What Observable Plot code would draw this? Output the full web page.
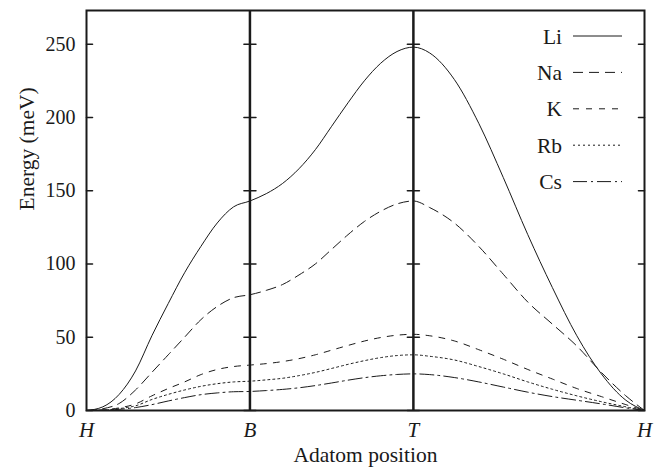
<!DOCTYPE html>
<html><head><meta charset="utf-8">
<script src="https://cdn.jsdelivr.net/npm/d3@7"></script>
<script src="https://cdn.jsdelivr.net/npm/@observablehq/plot@0.6"></script>
<style>
html,body{margin:0;padding:0;background:#fff;}
#chart{width:666px;height:470px;}
</style></head><body><div id="chart"></div>
<script>
// Path coordinate: H=0, B=1, T=2, H=2+sqrt(2)
const positions = [0,0.1,0.2,0.3,0.4,0.5,0.6,0.7,0.8,0.9,1.0, 1.1,1.2,1.3,1.4,1.5,1.6,1.7,1.8,1.9,2.0, 2.1,2.25,2.4,2.55,2.7,2.85,3.0,3.15,3.3,3.414];
const li = [0,2.5,11,27,51,73,94,112,128,139,143, 148,155,165,178,194,210,225,237,245,248, 244,226,196,159,120,84,51,25,7,0];
const na = [0,1.2,4.8,14,26,38,50,62,71,77,79, 82,86,92.5,100,110,120,129,136,141,143, 138.5,128,112,93,74,59,44,26,10,0];
const k  = [0,0.4,1.8,4.5,10,15,19.5,24.5,28,30,31, 32,33.4,35.4,38,41.2,44.4,47.4,49.8,51.4,52, 51,47.5,41.5,35,28,21.5,15,9.5,4,0];
const rb = [0,0.3,1.3,3.2,7.5,11,14,16.5,18.3,19.5,20, 20.9,22,23.8,26,28.7,31.5,34,36.1,37.5,38, 37,34.5,30,25,19.5,14.5,10,6,2.5,0];
const cs = [0,0.2,0.8,2,4,6.5,8.8,10.8,12,12.8,13, 13.6,14.4,15.5,17,18.8,20.7,22.4,23.7,24.6,25, 24.5,22.5,19.5,16,12.5,9.5,7,4.5,1.8,0];

const seriesNames = ["Li","Na","K","Rb","Cs"];
const seriesValues = [li, na, k, rb, cs];
const dashes = [null, "10,6", "6,7", "2,3", "14,4,2,4"];

const xTickPositions = [0, 1, 2, 3.414];
const xTickLabels = ["H","B","T","H"];
const yTicks = [0, 50, 100, 150, 200, 250];
const xDomain = [0, 3.414];
const yDomain = [0, 273];

const rows = [];
seriesNames.forEach((s, si) => positions.forEach((p, i) => rows.push({series: s, x: p, y: seriesValues[si][i]})));

const ink = "#1a1a1a";
const serif = "'Liberation Serif', 'Times New Roman', 'DejaVu Serif', serif";
const inner = xTickPositions.slice(1, 3);
const innerTicks = [];
inner.forEach(xv => yTicks.forEach(yv => innerTicks.push({x: xv, y: yv})));

const svg = Plot.plot({
  width: 666, height: 470,
  marginLeft: 86, marginRight: 22, marginTop: 10, marginBottom: 60,
  style: {fontFamily: serif, fontSize: "20px", color: ink, background: "#fff"},
  x: {domain: xDomain},
  y: {domain: yDomain},
  marks: [
    ...seriesNames.map((s, si) => Plot.line(rows.filter(r => r.series === s), {
      x: "x", y: "y", curve: "monotone-x", stroke: ink, strokeWidth: 1,
      strokeDasharray: dashes[si] || undefined
    })),
    Plot.ruleX(inner, {stroke: ink, strokeWidth: 2.5}),
    Plot.vector(yTicks, {x: () => xDomain[0], y: d => d, length: 6, rotate: 90, anchor: "start", r: 0, stroke: ink, strokeWidth: 1.6}),
    Plot.vector(yTicks, {x: () => xDomain[1], y: d => d, length: 6, rotate: -90, anchor: "start", r: 0, stroke: ink, strokeWidth: 1.6}),
    Plot.vector(innerTicks, {x: "x", y: "y", length: 12, rotate: 90, anchor: "middle", r: 0, stroke: ink, strokeWidth: 1.6}),
    Plot.frame({stroke: ink, strokeWidth: 2}),
    Plot.axisY({ticks: yTicks, tickSize: 0, tickPadding: 11, label: null, fontSize: 20}),
    Plot.axisX({ticks: xTickPositions, tickFormat: d => xTickLabels[xTickPositions.indexOf(d)], tickSize: 0, tickPadding: 12, fontStyle: "italic", fontSize: 21, label: null}),
    Plot.text(["Energy (meV)"], {frameAnchor: "left", dx: -59, rotate: -90, fill: ink, fontSize: 21.5}),
    Plot.text(["Adatom position"], {frameAnchor: "bottom", dy: 51, fill: ink, fontSize: 21.5})
  ]
});

// Legend inside the plot area (top right)
const g = d3.select(svg).append("g")
  .attr("font-family", serif).attr("font-size", 21.5).attr("fill", ink);
seriesNames.forEach((name, i) => {
  const yy = 36 + i * 36.4;
  g.append("text").attr("x", 562).attr("y", yy).attr("dy", "0.35em")
    .attr("text-anchor", "end").text(name);
  const ln = g.append("line").attr("x1", 573).attr("x2", 622).attr("y1", yy).attr("y2", yy)
    .attr("stroke", ink).attr("stroke-width", 1);
  if (dashes[i]) ln.attr("stroke-dasharray", dashes[i]);
});

document.getElementById("chart").appendChild(svg);
</script>
</body></html>
